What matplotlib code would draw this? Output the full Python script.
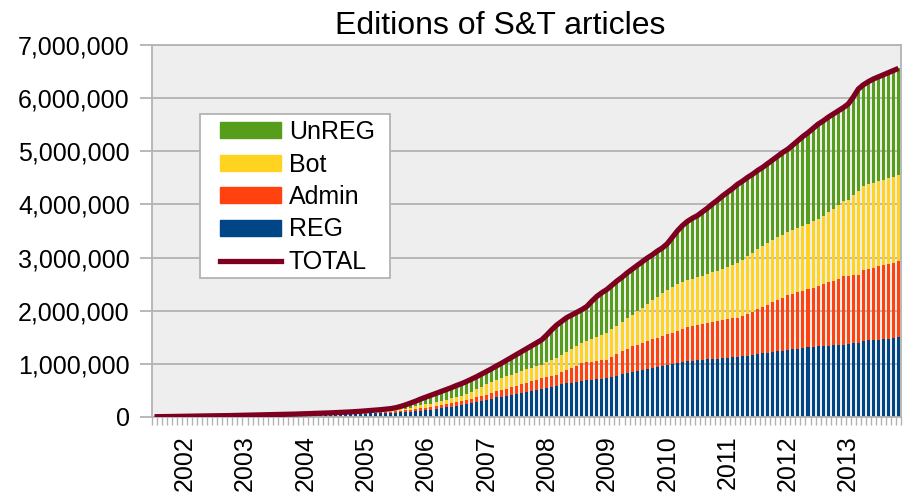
import numpy as np
import matplotlib
matplotlib.use("Agg")
import matplotlib.pyplot as plt
from matplotlib.ticker import FuncFormatter, FixedLocator
from matplotlib.patches import Patch, Rectangle
from matplotlib.lines import Line2D

plt.rcParams["font.family"] = ["Liberation Sans", "DejaVu Sans"]

# mesi da lug 2001 a nov 2013 (149 barre), valori in migliaia di edizioni
ANNI = [str(a) for a in range(2002, 2014)]
POS_ANNI = [6 + 12 * k for k in range(len(ANNI))]   # gennaio di ogni anno

REG = [3, 4, 5, 6, 7, 8,
       9, 10, 11, 12, 13, 14, 15, 16, 17, 18, 19, 20,
       21, 22, 23, 24, 25, 26, 28, 29, 31, 32, 34, 36,
       38, 40, 42, 44, 46, 48, 50, 52, 54, 56, 58, 61,
       64, 67, 70, 73, 76, 80, 84, 88, 93, 100, 108, 117,
       125, 133, 148, 163, 180, 197, 214, 230, 250, 265, 285, 305,
       325, 348, 370, 385, 398, 412, 428, 445, 462, 480, 505, 530,
       548, 565, 580, 620, 635, 648, 662, 680, 690, 700, 710, 720,
       730, 755, 780, 805, 830, 850, 865, 880, 895, 915, 935, 955,
       975, 995, 1020, 1035, 1045, 1060, 1068, 1076, 1084, 1092, 1100, 1108,
       1116, 1123, 1130, 1143, 1157, 1170, 1183, 1197, 1210, 1222, 1235, 1248,
       1260, 1272, 1284, 1296, 1308, 1318, 1330, 1336, 1342, 1348, 1354, 1360,
       1372, 1386, 1400, 1430, 1440, 1450, 1458, 1466, 1476, 1488, 1500]

ADMIN = [0, 0, 1, 1, 1, 1,
         1, 1, 1, 2, 2, 2, 2, 2, 2, 3, 3, 3,
         3, 3, 3, 4, 4, 4, 4, 4, 5, 5, 5, 6,
         6, 6, 7, 7, 7, 8, 8, 8, 9, 9, 10, 10,
         11, 12, 13, 14, 16, 18, 22, 28, 32, 36, 40, 44,
         47, 50, 53, 56, 59, 62, 65, 68, 71, 78, 85, 92,
         98, 104, 110, 122, 135, 148, 160, 172, 186, 200, 200, 202,
         205, 208, 212, 222, 250, 280, 305, 330, 336, 340, 344, 348,
         350, 376, 402, 428, 455, 480, 497, 513, 530, 547, 558, 569,
         580, 590, 600, 625, 645, 660, 668, 676, 684, 692, 700, 708,
         724, 732, 740, 765, 790, 815, 845, 872, 900, 934, 967, 1000,
         1030, 1045, 1062, 1078, 1095, 1112, 1130, 1160, 1190, 1220, 1250, 1290,
         1290, 1285, 1280, 1330, 1345, 1360, 1375, 1390, 1405, 1418, 1430]

BOT = [0, 0, 0, 1, 1, 1,
       1, 1, 1, 1, 1, 1, 1, 1, 2, 2, 2, 2,
       2, 2, 3, 3, 3, 3, 3, 3, 3, 4, 4, 4,
       5, 5, 5, 6, 6, 6, 7, 7, 8, 8, 9, 10,
       11, 12, 13, 14, 15, 17, 22, 28, 34, 42, 50, 60,
       65, 70, 75, 80, 86, 92, 98, 104, 110, 130, 150, 170,
       190, 205, 220, 228, 234, 238, 242, 245, 248, 250, 250, 252,
       275, 300, 320, 330, 340, 350, 360, 380, 400, 425, 450, 475,
       500, 518, 536, 554, 572, 590, 628, 666, 704, 742, 770, 800,
       830, 855, 880, 880, 880, 880, 895, 910, 925, 940, 955, 970,
       990, 1010, 1030, 1050, 1075, 1100, 1125, 1148, 1170, 1175, 1180, 1185,
       1190, 1202, 1214, 1226, 1238, 1250, 1260, 1290, 1320, 1350, 1380, 1410,
       1418, 1500, 1570, 1590, 1595, 1600, 1605, 1608, 1612, 1616, 1620]

UNREG = [2, 2, 1, 1, 1, 2,
         3, 3, 4, 3, 4, 4, 5, 5, 5, 4, 5, 6,
         7, 8, 8, 8, 9, 10, 10, 11, 11, 11, 12, 12,
         12, 13, 13, 14, 15, 16, 17, 19, 20, 23, 24, 27,
         29, 31, 34, 37, 40, 43, 47, 56, 71, 87, 102, 119,
         138, 157, 169, 181, 190, 199, 213, 223, 234, 237, 235, 238,
         242, 248, 260, 275, 298, 322, 345, 368, 389, 410, 440, 466,
         512, 567, 618, 628, 645, 642, 643, 630, 654, 715, 766, 797,
         820, 831, 842, 843, 853, 860, 860, 861, 861, 846, 857, 856,
         875, 940, 1000, 1060, 1110, 1140, 1159, 1198, 1237, 1286, 1325, 1374,
         1400, 1435, 1480, 1482, 1488, 1485, 1487, 1483, 1490, 1509, 1528, 1547,
         1560, 1601, 1640, 1680, 1709, 1750, 1790, 1784, 1788, 1782, 1776, 1760,
         1810, 1849, 1920, 1900, 1930, 1950, 1962, 1976, 1987, 1998, 2010]

COL = {"REG": "#004586", "Admin": "#ff420e", "Bot": "#ffd320",
       "UnREG": "#579d1c", "TOTAL": "#7e0021"}


def main():
    reg = np.array(REG) * 1000
    adm = np.array(ADMIN) * 1000
    bot = np.array(BOT) * 1000
    unr = np.array(UNREG) * 1000
    tot = reg + adm + bot + unr
    x = np.arange(len(reg))

    fig = plt.figure(figsize=(9.07, 4.93), dpi=100)
    ax = fig.add_axes([152 / 907, 1 - 417 / 493, (901 - 152) / 907, (417 - 45) / 493])
    ax.set_facecolor("#eeeeee")

    w = 0.6
    ax.bar(x, reg, w, color=COL["REG"], zorder=2)
    ax.bar(x, adm, w, bottom=reg, color=COL["Admin"], zorder=2)
    ax.bar(x, bot, w, bottom=reg + adm, color=COL["Bot"], zorder=2)
    ax.bar(x, unr, w, bottom=reg + adm + bot, color=COL["UnREG"], zorder=2)
    ax.plot(x, tot, color=COL["TOTAL"], lw=3.8, zorder=3, solid_capstyle="butt")

    ax.set_xlim(-0.5, len(x) - 0.5)
    ax.set_ylim(0, 7_000_000)
    ax.set_yticks(np.arange(0, 7_000_001, 1_000_000))
    ax.yaxis.set_major_formatter(FuncFormatter(lambda v, p: f"{v:,.0f}"))
    ax.grid(axis="y", color="#b3b3b3", lw=1.3, zorder=1)
    ax.set_axisbelow(True)

    ax.xaxis.set_major_locator(FixedLocator(POS_ANNI))
    ax.set_xticklabels(ANNI, rotation=90)
    ax.xaxis.set_minor_locator(FixedLocator(np.arange(-0.5, len(x), 1.0)))
    ax.tick_params(axis="x", which="major", length=0, pad=13, labelsize=18)
    ax.tick_params(axis="x", which="minor", length=6, width=1, color="#b3b3b3")
    ax.tick_params(axis="y", length=9, width=1.3, color="#b3b3b3", pad=7, labelsize=18)

    for s in ax.spines.values():
        s.set_color("#b3b3b3")
        s.set_linewidth(1.3)

    fig.text(500 / 907, 1 - 26 / 493, "Editions of S&T articles", ha="center", va="center",
             fontsize=23)

    # riquadro legenda disegnato a parte (padding orizzontale > verticale)
    box = Rectangle((200 / 907, 1 - 278 / 493), 190 / 907, 164 / 493,
                    transform=fig.transFigure, facecolor="white", edgecolor="#b3b3b3",
                    lw=1.3, zorder=4)
    ax.add_patch(box)
    box.set_clip_on(False)

    handles = [Patch(color=COL["UnREG"]), Patch(color=COL["Bot"]),
               Patch(color=COL["Admin"]), Patch(color=COL["REG"]),
               Line2D([], [], color=COL["TOTAL"], lw=3.8)]
    leg = ax.legend(handles, ["UnREG", "Bot", "Admin", "REG", "TOTAL"],
                    loc="upper left", bbox_to_anchor=(220 / 907, 1 - 120 / 493),
                    bbox_transform=fig.transFigure, borderaxespad=0, fontsize=18,
                    handlelength=2.45, handleheight=0.6, handletextpad=0.3,
                    labelspacing=0.34, borderpad=0, frameon=False)
    leg.set_zorder(5)

    fig.savefig("out.png", dpi=100)


if __name__ == "__main__":
    main()
